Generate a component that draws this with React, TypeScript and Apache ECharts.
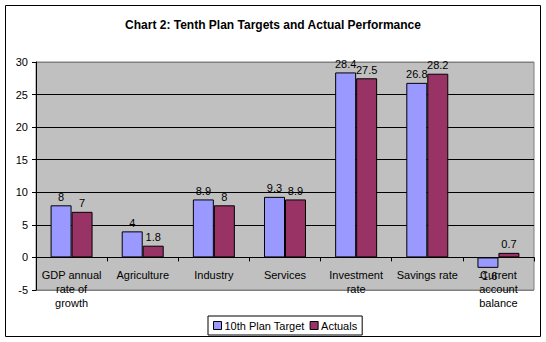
import React, { useEffect, useRef } from "react";
import * as echarts from "echarts";

const categories = [
  "GDP annual\nrate of\ngrowth",
  "Agriculture",
  "Industry",
  "Services",
  "Investment\nrate",
  "Savings rate",
  "Current\naccount\nbalance",
];
const targetValues = [8, 4, 8.9, 9.3, 28.4, 26.8, -1.6];
const actualValues = [7, 1.8, 8, 8.9, 27.5, 28.2, 0.7];
const seriesNames = ["10th Plan Target", "Actuals"];
const titleText = "Chart 2: Tenth Plan Targets and Actual Performance";

const FONT = "Arial, 'Liberation Sans', sans-serif";

export default function App() {
  const ref = useRef<HTMLDivElement>(null);
  useEffect(() => {
    document.body.style.margin = "0";
    if (!ref.current) return;
    const chart = echarts.init(ref.current, null, { renderer: "svg" });
    const mk = (vals: number[]) =>
      vals.map((v) => (v < 0 ? { value: v, label: { position: "bottom" } } : v));
    chart.setOption({
      animation: false,
      backgroundColor: "#ffffff",
      textStyle: { fontFamily: FONT },
      title: {
        text: titleText,
        left: "center",
        top: 14,
        textStyle: { fontSize: 12, fontWeight: "bold", color: "#000", fontFamily: FONT },
      },
      graphic: [
        {
          type: "rect",
          shape: { x: 5.5, y: 5.5, width: 535, height: 331 },
          style: { fill: "none", stroke: "#000", lineWidth: 1 },
          z: 100,
        },
      ],
      legend: {
        data: seriesNames,
        left: 208,
        top: 316,
        orient: "horizontal",
        borderColor: "#000",
        borderWidth: 1,
        backgroundColor: "#fff",
        padding: [4, 5],
        itemWidth: 8,
        itemHeight: 8,
        itemGap: 5,
        icon: "rect",
        itemStyle: { borderColor: "#000", borderWidth: 1 },
        textStyle: { fontSize: 11, color: "#000", fontFamily: FONT, padding: [0, 0, 0, -2] },
      },
      grid: {
        left: 36,
        right: 12,
        top: 62,
        bottom: 52,
        show: true,
        backgroundColor: "#C0C0C0",
        borderColor: "#808080",
        borderWidth: 1,
        containLabel: false,
      },
      xAxis: {
        type: "category",
        data: categories,
        boundaryGap: true,
        axisLine: { onZero: true, lineStyle: { color: "#000", width: 1 } },
        axisTick: { show: true, length: 4, alignWithLabel: false, lineStyle: { color: "#000" } },
        axisLabel: {
          interval: 0,
          fontSize: 11,
          color: "#000",
          fontFamily: FONT,
          margin: -22,
          lineHeight: 14,
        },
      },
      yAxis: {
        type: "value",
        min: -5,
        max: 30,
        interval: 5,
        axisLine: { show: true, lineStyle: { color: "#000" } },
        axisTick: { show: true, length: 4, lineStyle: { color: "#000" } },
        axisLabel: { fontSize: 11, color: "#000", fontFamily: FONT, margin: 8 },
        splitLine: {
          show: true,
          lineStyle: {
            color: ["#808080", "#000", "#000", "#000", "#000", "#000", "#000", "#808080"],
            width: 1,
          },
        },
      },
      series: [
        {
          name: seriesNames[0],
          type: "bar",
          data: mk(targetValues),
          barGap: "0%",
          barCategoryGap: "41%",
          itemStyle: { color: "#9999FF", borderColor: "#000", borderWidth: 1 },
          label: {
            show: true,
            position: "top",
            distance: 3,
            fontSize: 11,
            color: "#000",
            fontFamily: FONT,
          },
        },
        {
          name: seriesNames[1],
          type: "bar",
          data: mk(actualValues),
          barGap: "0%",
          barCategoryGap: "41%",
          itemStyle: { color: "#993366", borderColor: "#000", borderWidth: 1 },
          label: {
            show: true,
            position: "top",
            distance: 3,
            fontSize: 11,
            color: "#000",
            fontFamily: FONT,
          },
        },
      ],
    });
    return () => chart.dispose();
  }, []);
  return <div ref={ref} style={{ width: 546, height: 342 }} />;
}
